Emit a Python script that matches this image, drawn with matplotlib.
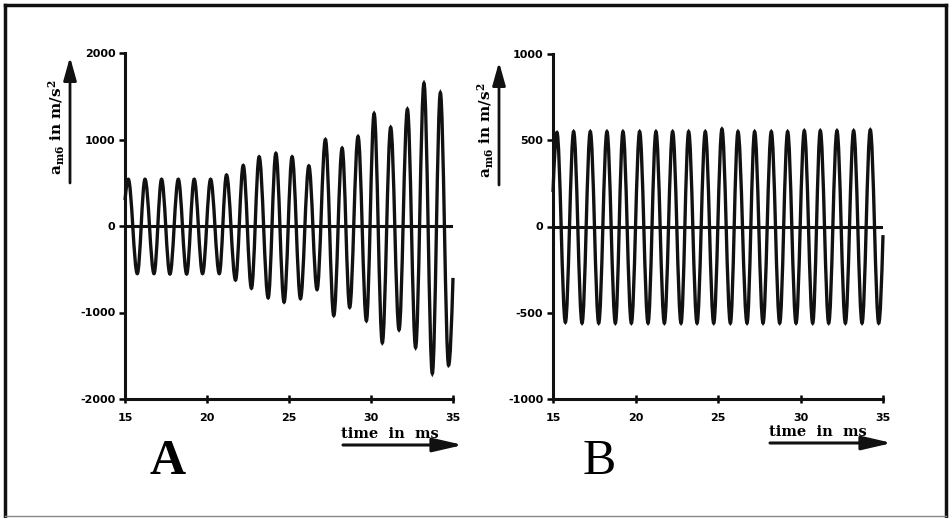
import matplotlib
matplotlib.use("Agg")
import matplotlib.pyplot as plt
from matplotlib.path import Path
from matplotlib.patches import PathPatch, FancyArrowPatch
from matplotlib.lines import Line2D

plt.rcParams['mathtext.fontset'] = 'dejavuserif'
plt.rcParams['mathtext.default'] = 'bf'

# ---------------- data ----------------
x_ticks = [15, 20, 25, 30, 35]
x_tick_labels = ["15", "20", "25", "30", "35"]

yticks_A = [-2000, -1000, 0, 1000, 2000]
ytick_labels_A = ["-2000", "-1000", "0", "1000", "2000"]
yticks_B = [-1000, -500, 0, 500, 1000]
ytick_labels_B = ["-1000", "-500", "0", "500", "1000"]

# Panel A: extrema of the signal (time in ms, value in m/s^2)
start_A = (15.0, 300)
end_A = (35.0, -600)
peak_t_A = [15.20, 16.22, 17.23, 18.25, 19.22, 20.22, 21.19, 22.21, 23.18, 24.20,
            25.19, 26.21, 27.22, 28.24, 29.21, 30.19, 31.20, 32.22, 33.23, 34.23]
peak_v_A = [540, 540, 540, 540, 540, 540, 590, 700, 800, 840,
            800, 695, 1000, 900, 1035, 1300, 1140, 1350, 1650, 1540]
trough_t_A = [15.75, 16.77, 17.74, 18.76, 19.73, 20.75, 21.74, 22.71, 23.73, 24.70,
              25.70, 26.71, 27.73, 28.70, 29.72, 30.69, 31.71, 32.72, 33.74, 34.73]
trough_v_A = [-550, -550, -555, -555, -550, -550, -625, -720, -830, -880,
              -840, -735, -1035, -940, -1095, -1350, -1200, -1405, -1705, -1610]

# Panel B
start_B = (15.0, 200)
end_B = (35.0, -50)
peak_t_B = [15.24, 16.25, 17.26, 18.27, 19.24, 20.25, 21.24, 22.25, 23.22, 24.23,
            25.24, 26.21, 27.22, 28.23, 29.22, 30.23, 31.20, 32.21, 33.22, 34.23]
peak_v_B = [545, 550, 550, 550, 550, 550, 550, 550, 550, 550,
            565, 550, 550, 550, 550, 555, 555, 555, 555, 560]
trough_t_B = [15.75, 16.76, 17.77, 18.78, 19.75, 20.76, 21.75, 22.76, 23.73, 24.74,
              25.75, 26.76, 27.73, 28.74, 29.73, 30.74, 31.71, 32.72, 33.73, 34.74]
trough_v_B = [-555, -560, -560, -560, -560, -560, -560, -560, -560, -560,
              -560, -560, -560, -560, -560, -560, -560, -560, -560, -560]

W, H = 950, 518
fig = plt.figure(figsize=(W / 100, H / 100), dpi=100)


def fx(x):
    return x / W


def fy(y):
    return 1 - y / H


def smooth_path(start, pt, pv, tt, tv, end):
    pts = [start]
    for a, b, c, d in zip(pt, pv, tt, tv):
        pts.append((a, b))
        pts.append((c, d))
    pts.append(end)
    verts = [pts[0]]
    codes = [Path.MOVETO]
    c = 0.36
    for i in range(1, len(pts)):
        x0, y0 = pts[i - 1]
        x1, y1 = pts[i]
        dx = x1 - x0
        if i == 1:
            c1 = (x0 + dx / 3, y0 + (y1 - y0) * 0.55)
        else:
            c1 = (x0 + c * dx, y0)
        if i == len(pts) - 1:
            c2 = (x1 - dx / 3, y1 - (y1 - y0) * 0.55)
        else:
            c2 = (x1 - c * dx, y1)
        verts += [c1, c2, (x1, y1)]
        codes += [Path.CURVE4] * 3
    return Path(verts, codes)


def setup_axes(rect, ylim, yticks, ylabels):
    ax = fig.add_axes(rect)
    ax.set_xlim(15, 35)
    ax.set_ylim(*ylim)
    for s in ["top", "right"]:
        ax.spines[s].set_visible(False)
    ax.spines["left"].set_linewidth(2.2)
    ax.spines["bottom"].set_linewidth(2.2)
    ax.spines["left"].set_color("#111111")
    ax.spines["bottom"].set_color("#111111")
    ax.set_xticks(x_ticks)
    ax.set_xticklabels(x_tick_labels)
    ax.set_yticks(yticks)
    ax.set_yticklabels(ylabels)
    ax.tick_params(axis="y", direction="out", length=4, width=1.8, pad=3,
                   labelsize=8)
    ax.tick_params(axis="x", direction="inout", length=6, width=1.8, pad=7,
                   labelsize=8)
    for lab in ax.get_xticklabels() + ax.get_yticklabels():
        lab.set_fontweight("bold")
        lab.set_family("DejaVu Sans")
    ax.axhline(0, color="#111111", lw=2.2, zorder=3)
    return ax


axA = setup_axes([fx(125), fy(399), (453 - 125) / W, (399 - 53) / H],
                 (-2000, 2000), yticks_A, ytick_labels_A)
axB = setup_axes([fx(553), fy(399), (883 - 553) / W, (399 - 54) / H],
                 (-1000, 1000), yticks_B, ytick_labels_B)

axA.add_patch(PathPatch(smooth_path(start_A, peak_t_A, peak_v_A, trough_t_A,
                                    trough_v_A, end_A),
                        fill=False, lw=2.4, edgecolor="#111111", clip_on=False,
                        zorder=4))
axB.add_patch(PathPatch(smooth_path(start_B, peak_t_B, peak_v_B, trough_t_B,
                                    trough_v_B, end_B),
                        fill=False, lw=2.4, edgecolor="#111111", clip_on=False,
                        zorder=4))

ylabel = r"a$_{m6}$ in m/s$^{2}$"
y_arrow_kw = dict(arrowstyle="-|>,head_length=1.0,head_width=0.28", lw=2.0,
                  color="#111111", shrinkA=0, shrinkB=0, mutation_scale=14)
x_arrow_kw = dict(arrowstyle="-|>,head_length=1.3,head_width=0.3", lw=2.2,
                  color="#111111", shrinkA=0, shrinkB=0, mutation_scale=14)

# y labels with upward arrows
fig.text(fx(57), fy(127), ylabel, rotation=90, ha="center", va="center",
         fontsize=11, fontweight="bold", family="DejaVu Serif")
fig.text(fx(486), fy(130), ylabel, rotation=90, ha="center", va="center",
         fontsize=11, fontweight="bold", family="DejaVu Serif")
fig.add_artist(FancyArrowPatch((fx(70), fy(183)), (fx(70), fy(57)),
                               transform=fig.transFigure, **y_arrow_kw))
fig.add_artist(FancyArrowPatch((fx(499), fy(185)), (fx(499), fy(62)),
                               transform=fig.transFigure, **y_arrow_kw))

# x labels with right arrows
fig.text(fx(390), fy(434), "time  in  ms", ha="center", va="center",
         fontsize=10.5, fontweight="bold", family="DejaVu Serif")
fig.text(fx(818), fy(432), "time  in  ms", ha="center", va="center",
         fontsize=10.5, fontweight="bold", family="DejaVu Serif")
fig.add_artist(FancyArrowPatch((fx(343), fy(445)), (fx(463), fy(445)),
                               transform=fig.transFigure, **x_arrow_kw))
fig.add_artist(FancyArrowPatch((fx(770), fy(443)), (fx(892), fy(443)),
                               transform=fig.transFigure, **x_arrow_kw))

# panel letters
fig.text(fx(168), fy(462), "A", ha="center", va="center", fontsize=36,
         fontweight="bold", family="Liberation Serif")
fig.text(fx(599), fy(462), "B", ha="center", va="center", fontsize=36,
         family="Liberation Serif")

# outer frame
fig.add_artist(Line2D([fx(5), fx(5)], [fy(5), fy(516)], transform=fig.transFigure,
                      color="#111111", lw=2.5))
fig.add_artist(Line2D([fx(5), fx(946)], [fy(5), fy(5)], transform=fig.transFigure,
                      color="#111111", lw=2.5))
fig.add_artist(Line2D([fx(946), fx(946)], [fy(5), fy(516)], transform=fig.transFigure,
                      color="#111111", lw=2.5))
fig.add_artist(Line2D([fx(5), fx(946)], [fy(516), fy(516)], transform=fig.transFigure,
                      color="#888888", lw=1.0))

fig.savefig("out.png", dpi=100, facecolor="white")
